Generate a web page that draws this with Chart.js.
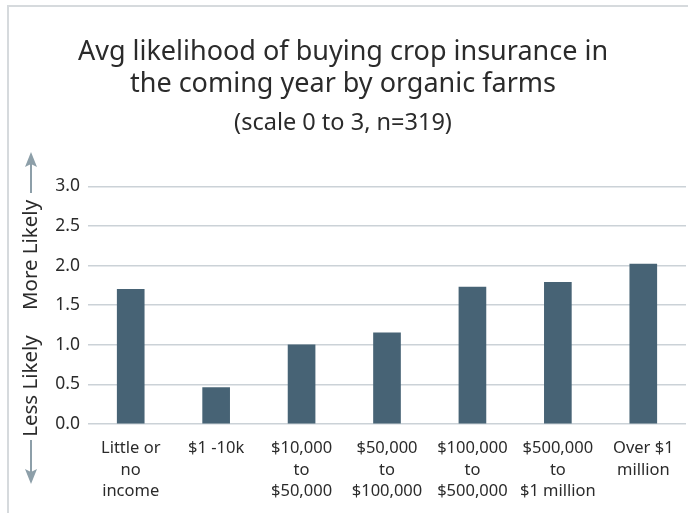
<!DOCTYPE html>
<html>
<head>
<meta charset="utf-8">
<script src="https://cdn.jsdelivr.net/npm/chart.js@4/dist/chart.umd.min.js"></script>
<style>
  body { margin: 0; background: #fff; }
  #wrap { width: 688px; height: 513px; position: relative; }
</style>
</head>
<body>
<div id="wrap"><canvas id="chart"></canvas></div>
<script>
// data
let incomeGroups = [
    ['Little or', 'no', 'income'],
    ['$1 -10k'],
    ['$10,000', 'to', '$50,000'],
    ['$50,000', 'to', '$100,000'],
    ['$100,000', 'to', '$500,000'],
    ['$500,000', 'to', '$1 million'],
    ['Over $1', 'million']
]
let avgLikelihood = [1.70, 0.46, 1.00, 1.15, 1.73, 1.79, 2.02]
let yTicks = [0, 0.5, 1.0, 1.5, 2.0, 2.5, 3.0]

let fontFamily = '"Noto Sans", "Open Sans", sans-serif'
let arrowColor = '#8d9fa9'

// frame lines + the "Less Likely / More Likely" axis label with arrows
let sidePlugin = {
    id: 'side',
    beforeDraw(chart) {
        let ctx = chart.ctx
        ctx.save()
        ctx.fillStyle = '#d6dadd'
        ctx.fillRect(7, 5, 681, 2)
        ctx.fillRect(7, 5, 2, 508)
        ctx.restore()
    },
    afterDraw(chart) {
        let ctx = chart.ctx
        let x = 31
        ctx.save()
        // up arrow
        ctx.strokeStyle = arrowColor
        ctx.fillStyle = arrowColor
        ctx.lineWidth = 2
        ctx.beginPath()
        ctx.moveTo(x, 163)
        ctx.lineTo(x, 193)
        ctx.stroke()
        ctx.beginPath()
        ctx.moveTo(x, 152)
        ctx.lineTo(x - 6, 167)
        ctx.lineTo(x, 164)
        ctx.lineTo(x + 6, 167)
        ctx.closePath()
        ctx.fill()
        // down arrow
        ctx.beginPath()
        ctx.moveTo(x, 440)
        ctx.lineTo(x, 472)
        ctx.stroke()
        ctx.beginPath()
        ctx.moveTo(x, 484)
        ctx.lineTo(x - 6, 469)
        ctx.lineTo(x, 472)
        ctx.lineTo(x + 6, 469)
        ctx.closePath()
        ctx.fill()
        // rotated labels
        ctx.fillStyle = '#2b2b2b'
        ctx.font = '20.5px ' + fontFamily
        ctx.textAlign = 'center'
        ctx.textBaseline = 'middle'
        ctx.translate(x, 0)
        ctx.rotate(-Math.PI / 2)
        ctx.fillText('More Likely', -255, 0)
        ctx.fillText('Less Likely', -386, 0)
        ctx.restore()
    }
}

let chartCanvas = document.querySelector('#chart')
let ctx = chartCanvas.getContext('2d')

let likelihoodChart = new Chart(ctx, {
    type: 'bar',
    data: {
        labels: incomeGroups,
        datasets: [
            {
                data: avgLikelihood,
                backgroundColor: '#476375',
                barThickness: 27
            }
        ]
    },
    options: {
        responsive: true,
        maintainAspectRatio: false,
        animation: false,
        layout: {
            padding: { left: 0, right: 2, top: 0, bottom: 0 }
        },
        plugins: {
            legend: { display: false },
            tooltip: { enabled: false },
            title: {
                display: true,
                text: ['Avg likelihood of buying crop insurance in', 'the coming year by organic farms'],
                color: '#2b2b2b',
                font: { family: fontFamily, size: 27, weight: 'normal', lineHeight: 1.185 },
                padding: { top: 36, bottom: 12 }
            },
            subtitle: {
                display: true,
                text: '(scale 0 to 3, n=319)',
                color: '#2b2b2b',
                font: { family: fontFamily, size: 23.5, weight: 'normal', lineHeight: 1.0 },
                padding: { top: 0, bottom: 51 }
            }
        },
        scales: {
            x: {
                afterFit(scale) { scale.height = 89 },
                grid: { display: false, drawTicks: false },
                border: { display: false },
                ticks: {
                    color: '#2b2b2b',
                    font: { family: fontFamily, size: 16.5, lineHeight: 1.3 },
                    padding: 14,
                    maxRotation: 0,
                    autoSkip: false
                }
            },
            y: {
                min: 0,
                max: 3,
                afterFit(scale) { scale.width = 88 },
                afterBuildTicks(scale) { scale.ticks = yTicks.map(v => ({ value: v })) },
                grid: { color: '#cbd2d7', lineWidth: 1.5, drawTicks: false },
                border: { display: false },
                ticks: {
                    color: '#2b2b2b',
                    font: { family: fontFamily, size: 17.5 },
                    padding: 8,
                    callback: v => v.toFixed(1)
                }
            }
        }
    },
    plugins: [sidePlugin]
})
</script>
</body>
</html>
